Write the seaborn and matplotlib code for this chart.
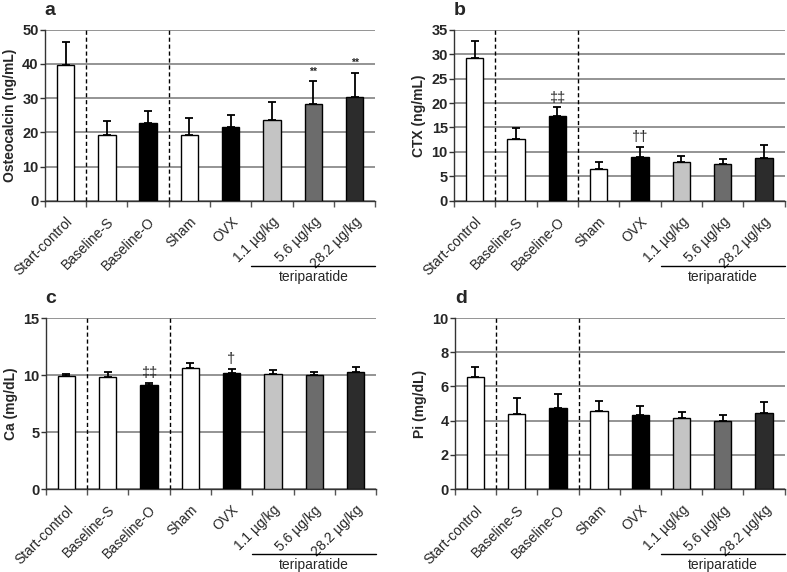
import numpy as np
import pandas as pd
import matplotlib
matplotlib.use('Agg')
import matplotlib.pyplot as plt
import seaborn as sns

# groups on the x axis (same in all four panels)
groups = ['Start-control', 'Baseline-S', 'Baseline-O', 'Sham', 'OVX',
          '1.1 µg/kg', '5.6 µg/kg', '28.2 µg/kg']
bar_colors = ['#ffffff', '#ffffff', '#000000', '#ffffff', '#000000',
              '#c4c4c4', '#6c6c6c', '#2c2c2c']

# mean values and SD (upper error bar only)
osteocalcin_mean = [39.7, 19.3, 22.7, 19.3, 21.7, 23.5, 28.3, 30.3]
osteocalcin_sd = [6.7, 4.0, 3.6, 5.0, 3.4, 5.5, 6.7, 7.2]
ctx_mean = [29.2, 12.6, 17.3, 6.5, 9.0, 7.9, 7.5, 8.7]
ctx_sd = [3.4, 2.3, 1.8, 1.4, 2.1, 1.2, 1.1, 2.8]
ca_mean = [9.91, 9.80, 9.15, 10.58, 10.18, 10.09, 10.03, 10.23]
ca_sd = [0.18, 0.43, 0.15, 0.47, 0.35, 0.38, 0.26, 0.44]
pi_mean = [6.55, 4.41, 4.74, 4.58, 4.35, 4.13, 4.00, 4.42]
pi_sd = [0.58, 0.91, 0.80, 0.57, 0.48, 0.39, 0.31, 0.67]

# significance marks per bar
osteocalcin_marks = ['', '', '', '', '', '', '**', '**']
ctx_marks = ['', '', '‡‡', '', '††', '', '', '']
ca_marks = ['', '', '‡‡', '', '†', '', '', '']
pi_marks = ['', '', '', '', '', '', '', '']

panels = [
    ('a', 'Osteocalcin (ng/mL)', osteocalcin_mean, osteocalcin_sd, osteocalcin_marks, 50, 10),
    ('b', 'CTX (ng/mL)', ctx_mean, ctx_sd, ctx_marks, 35, 5),
    ('c', 'Ca (mg/dL)', ca_mean, ca_sd, ca_marks, 15, 5),
    ('d', 'Pi (mg/dL)', pi_mean, pi_sd, pi_marks, 10, 2),
]

# axes boxes in figure fractions (left, bottom, width, height)
boxes = [
    (0.057, 0.649, 0.420, 0.299),
    (0.577, 0.649, 0.420, 0.299),
    (0.058, 0.145, 0.420, 0.299),
    (0.578, 0.145, 0.419, 0.299),
]

sns.set_style('white')
plt.rcParams['font.family'] = ['Liberation Sans', 'DejaVu Sans']

fig = plt.figure(figsize=(7.87, 5.72), dpi=100)

for (letter, ylabel, means, sds, marks, ymax, ystep), box in zip(panels, boxes):
    ax = fig.add_axes(box)
    df = pd.DataFrame({'group': groups, 'value': means})
    sns.barplot(data=df, x='group', y='value', hue='group', order=groups,
                palette=dict(zip(groups, bar_colors)), legend=False,
                errorbar=None, width=0.42, edgecolor='black', linewidth=1.0,
                ax=ax, zorder=3)

    x = np.arange(len(groups))
    ax.errorbar(x, means, yerr=[np.zeros(len(sds)), sds], fmt='none',
                ecolor='black', elinewidth=1.3, capsize=2.8, capthick=1.3, zorder=4)

    for xi, m, s, mk in zip(x, means, sds, marks):
        if mk:
            if mk == '**':
                ax.text(xi, m + s + ymax * 0.025, mk, ha='center', va='bottom',
                        fontsize=7.5, fontweight='bold')
            else:
                ax.text(xi, m + s + ymax * 0.015, mk, ha='center', va='bottom',
                        fontsize=10.5)

    # dashed separators
    for xs in (0.5, 2.5):
        ax.axvline(xs, ymin=0, ymax=1, color='black', linestyle=(0, (3, 2)),
                   linewidth=1.0, zorder=2)

    ax.set_xlim(-0.5, 7.5)
    ax.set_ylim(0, ymax)
    ax.set_yticks(np.arange(0, ymax + 0.1, ystep))
    ax.yaxis.grid(True, color='#767676', linewidth=1.1, zorder=0)
    ax.set_axisbelow(True)
    for side in ('top', 'right'):
        ax.spines[side].set_visible(False)
    ax.spines['left'].set_color('#333333')
    ax.spines['bottom'].set_color('#333333')
    ax.spines['left'].set_linewidth(1.0)
    ax.spines['bottom'].set_linewidth(1.0)

    ax.tick_params(axis='y', left=True, length=3.5, width=1, color='#333333',
                   labelsize=10.5, pad=1)
    for lab in ax.get_yticklabels():
        lab.set_fontweight('bold')
    ax.set_xticks(x)
    ax.set_xticks(np.arange(-0.5, 8, 1), minor=True)
    ax.tick_params(axis='x', which='major', length=0, pad=10)
    ax.tick_params(axis='x', which='minor', bottom=True, length=4, width=1,
                   color='#555555')
    ax.set_xticklabels(groups, rotation=45, ha='right', rotation_mode='anchor',
                       fontsize=10)
    ax.set_xlabel('')
    ax.set_ylabel(ylabel, fontsize=10, fontweight='bold', labelpad=4)

    ax.text(0.0, 1.165, letter, transform=ax.transAxes, fontsize=14,
            fontweight='bold', ha='left', va='top')

    # teriparatide bracket
    ax.plot([4.5, 7.5], [-0.38, -0.38], transform=ax.get_xaxis_transform(),
            color='black', linewidth=1.0, clip_on=False)
    ax.text(6.0, -0.445, 'teriparatide', transform=ax.get_xaxis_transform(),
            ha='center', va='center', fontsize=10)

fig.savefig('out.png', dpi=100)
